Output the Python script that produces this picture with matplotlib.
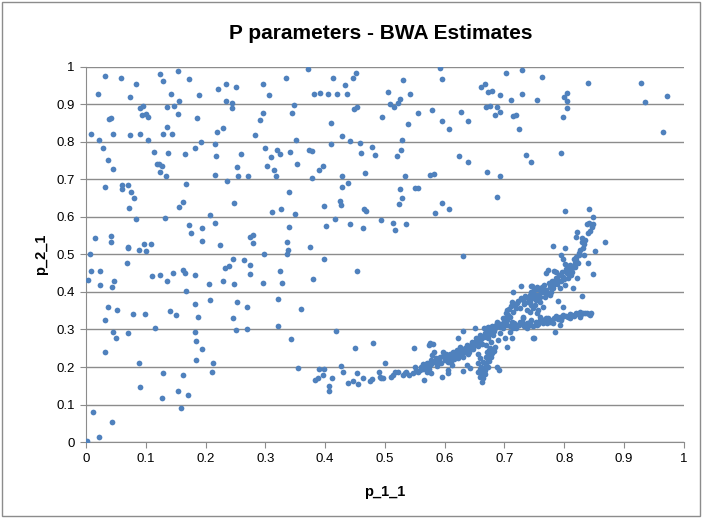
import numpy as np
import matplotlib
matplotlib.use('Agg')
import matplotlib.pyplot as plt
from matplotlib.patches import Rectangle

# (p_1_1, p_2_1) pairs
scatter_left = [
    (0.031, 0.975), (0.059, 0.970), (0.124, 0.981), (0.154, 0.989), (0.129, 0.963), (0.173, 0.967),
    (0.084, 0.954), (0.234, 0.955), (0.020, 0.928), (0.074, 0.921), (0.142, 0.927), (0.189, 0.926),
    (0.221, 0.940), (0.156, 0.908), (0.234, 0.910), (0.244, 0.903), (0.244, 0.891), (0.091, 0.891),
    (0.095, 0.897), (0.135, 0.892), (0.148, 0.897), (0.093, 0.873), (0.100, 0.874), (0.103, 0.867),
    (0.154, 0.875), (0.038, 0.862), (0.042, 0.865), (0.185, 0.863), (0.135, 0.841), (0.229, 0.838),
    (0.219, 0.827), (0.008, 0.822), (0.045, 0.822), (0.074, 0.819), (0.091, 0.821), (0.129, 0.820),
    (0.144, 0.821), (0.021, 0.804), (0.103, 0.805), (0.192, 0.800), (0.216, 0.795), (0.029, 0.784),
    (0.182, 0.784), (0.113, 0.774), (0.138, 0.771), (0.165, 0.768), (0.217, 0.762), (0.037, 0.752),
    (0.118, 0.740), (0.122, 0.742), (0.127, 0.735), (0.045, 0.727), (0.124, 0.719), (0.134, 0.710),
    (0.215, 0.712), (0.236, 0.697), (0.032, 0.680), (0.060, 0.685), (0.061, 0.675), (0.071, 0.685),
    (0.168, 0.689), (0.075, 0.666), (0.081, 0.650), (0.072, 0.623), (0.162, 0.641), (0.155, 0.626),
    (0.248, 0.636), (0.083, 0.595), (0.133, 0.597), (0.208, 0.604), (0.216, 0.584), (0.173, 0.579),
    (0.194, 0.570), (0.176, 0.557), (0.015, 0.544), (0.042, 0.550), (0.041, 0.533), (0.194, 0.535),
    (0.070, 0.519), (0.071, 0.516), (0.089, 0.513), (0.097, 0.528), (0.108, 0.529), (0.101, 0.509),
    (0.225, 0.525), (0.007, 0.502), (0.069, 0.478), (0.246, 0.487), (0.233, 0.463), (0.240, 0.469),
    (0.008, 0.456), (0.023, 0.456), (0.163, 0.458), (0.166, 0.451), (0.146, 0.451), (0.124, 0.445),
    (0.110, 0.443), (0.182, 0.445), (0.004, 0.432), (0.135, 0.428), (0.047, 0.428), (0.229, 0.428),
    (0.247, 0.421), (0.024, 0.419), (0.206, 0.421), (0.043, 0.412), (0.167, 0.403), (0.182, 0.369),
    (0.207, 0.379), (0.036, 0.361), (0.052, 0.352), (0.078, 0.340), (0.098, 0.341), (0.140, 0.350),
    (0.150, 0.338), (0.187, 0.333), (0.032, 0.325), (0.246, 0.331), (0.045, 0.294), (0.050, 0.277),
    (0.070, 0.290), (0.116, 0.305), (0.182, 0.293), (0.184, 0.270), (0.194, 0.248), (0.031, 0.240),
    (0.184, 0.220), (0.213, 0.211), (0.088, 0.211), (0.211, 0.187), (0.129, 0.183), (0.162, 0.178),
    (0.090, 0.146), (0.154, 0.137), (0.171, 0.125), (0.127, 0.117), (0.159, 0.090), (0.011, 0.079),
    (0.043, 0.054), (0.021, 0.013), (0.002, 0.003),
]

scatter_mid = [
    (0.371, 0.995), (0.334, 0.971), (0.413, 0.970), (0.447, 0.971), (0.451, 0.983), (0.251, 0.947),
    (0.296, 0.955), (0.434, 0.952), (0.306, 0.925), (0.381, 0.928), (0.391, 0.931), (0.405, 0.928),
    (0.420, 0.928), (0.436, 0.927), (0.348, 0.898), (0.448, 0.887), (0.454, 0.892), (0.296, 0.876),
    (0.345, 0.876), (0.291, 0.859), (0.496, 0.867), (0.410, 0.851), (0.283, 0.818), (0.428, 0.816),
    (0.352, 0.806), (0.441, 0.803), (0.458, 0.798), (0.410, 0.794), (0.478, 0.787), (0.260, 0.769),
    (0.299, 0.783), (0.319, 0.779), (0.324, 0.769), (0.341, 0.772), (0.373, 0.778), (0.378, 0.777),
    (0.460, 0.770), (0.483, 0.765), (0.309, 0.760), (0.253, 0.734), (0.302, 0.736), (0.353, 0.742),
    (0.396, 0.736), (0.315, 0.725), (0.389, 0.726), (0.467, 0.718), (0.255, 0.708), (0.271, 0.710),
    (0.318, 0.708), (0.429, 0.708), (0.378, 0.704), (0.439, 0.690), (0.428, 0.679), (0.339, 0.667),
    (0.425, 0.643), (0.426, 0.631), (0.398, 0.628), (0.327, 0.621), (0.311, 0.613), (0.350, 0.607),
    (0.465, 0.621), (0.469, 0.615), (0.417, 0.595), (0.493, 0.591), (0.340, 0.574), (0.401, 0.575),
    (0.442, 0.582), (0.463, 0.571), (0.275, 0.547), (0.280, 0.553), (0.279, 0.530), (0.337, 0.533),
    (0.338, 0.511), (0.336, 0.501), (0.375, 0.520), (0.297, 0.501), (0.265, 0.484), (0.275, 0.471),
    (0.398, 0.487), (0.274, 0.449), (0.324, 0.455), (0.454, 0.456), (0.296, 0.423), (0.328, 0.424),
    (0.380, 0.435), (0.322, 0.382), (0.253, 0.373), (0.269, 0.360), (0.360, 0.354), (0.251, 0.298),
    (0.269, 0.302), (0.321, 0.309), (0.343, 0.274), (0.418, 0.295), (0.450, 0.251), (0.480, 0.264),
]

scatter_right = [
    (0.592, 0.998), (0.729, 0.991), (0.702, 0.984), (0.530, 0.965), (0.596, 0.968), (0.506, 0.934),
    (0.542, 0.929), (0.661, 0.947), (0.668, 0.955), (0.673, 0.933), (0.679, 0.937), (0.693, 0.925),
    (0.730, 0.927), (0.711, 0.912), (0.508, 0.901), (0.515, 0.892), (0.522, 0.905), (0.526, 0.914),
    (0.670, 0.894), (0.676, 0.895), (0.688, 0.893), (0.693, 0.881), (0.685, 0.871), (0.715, 0.869),
    (0.720, 0.872), (0.556, 0.876), (0.579, 0.884), (0.628, 0.879), (0.596, 0.857), (0.639, 0.855),
    (0.538, 0.848), (0.607, 0.835), (0.724, 0.835), (0.528, 0.805), (0.527, 0.779), (0.521, 0.763),
    (0.624, 0.763), (0.639, 0.747), (0.736, 0.765), (0.744, 0.747), (0.671, 0.719), (0.693, 0.708),
    (0.533, 0.708), (0.575, 0.711), (0.582, 0.715), (0.525, 0.675), (0.551, 0.677), (0.556, 0.677),
    (0.528, 0.651), (0.523, 0.634), (0.688, 0.653), (0.595, 0.636), (0.607, 0.622), (0.584, 0.611),
    (0.514, 0.585), (0.517, 0.565), (0.536, 0.581), (0.631, 0.495), (0.763, 0.973), (0.839, 0.956),
    (0.929, 0.957), (0.755, 0.913), (0.799, 0.919), (0.805, 0.931), (0.805, 0.909), (0.935, 0.906),
    (0.972, 0.923), (0.805, 0.890), (0.798, 0.867), (0.965, 0.827), (0.795, 0.770),
]

low_arc = [
    (0.354, 0.198), (0.390, 0.195), (0.399, 0.196), (0.396, 0.180), (0.383, 0.165), (0.388, 0.171),
    (0.411, 0.171), (0.406, 0.149), (0.406, 0.137), (0.426, 0.202), (0.430, 0.187), (0.439, 0.158),
    (0.446, 0.164), (0.454, 0.185), (0.455, 0.154), (0.463, 0.171), (0.475, 0.164), (0.479, 0.168),
    (0.490, 0.186), (0.493, 0.171), (0.497, 0.171), (0.500, 0.211), (0.492, 0.174), (0.513, 0.180),
    (0.517, 0.188), (0.511, 0.174), (0.522, 0.188), (0.531, 0.179), (0.533, 0.183), (0.536, 0.186),
    (0.541, 0.179), (0.547, 0.183), (0.548, 0.251), (0.551, 0.201), (0.559, 0.192), (0.563, 0.196),
    (0.564, 0.207), (0.566, 0.165), (0.570, 0.188), (0.573, 0.196), (0.575, 0.205), (0.578, 0.219),
    (0.579, 0.232), (0.582, 0.241), (0.575, 0.263), (0.581, 0.261), (0.573, 0.259), (0.578, 0.183),
    (0.586, 0.223), (0.589, 0.210), (0.592, 0.227), (0.598, 0.241), (0.600, 0.225), (0.603, 0.234),
    (0.606, 0.214), (0.609, 0.236), (0.612, 0.227), (0.614, 0.241), (0.613, 0.205), (0.595, 0.174),
    (0.606, 0.192), (0.605, 0.183), (0.617, 0.232), (0.621, 0.245), (0.625, 0.254), (0.623, 0.223),
    (0.628, 0.239), (0.631, 0.227), (0.634, 0.250), (0.638, 0.259), (0.641, 0.241), (0.645, 0.267),
    (0.648, 0.254), (0.652, 0.277), (0.653, 0.263), (0.659, 0.285), (0.656, 0.234), (0.630, 0.189),
    (0.638, 0.205), (0.643, 0.198), (0.630, 0.296), (0.650, 0.303), (0.623, 0.277),
    (0.656, 0.210), (0.659, 0.196), (0.662, 0.183), (0.659, 0.174), (0.662, 0.161), (0.664, 0.170),
    (0.656, 0.188), (0.667, 0.192), (0.670, 0.205), (0.673, 0.219), (0.676, 0.232), (0.664, 0.214),
    (0.659, 0.223), (0.687, 0.201), (0.691, 0.192),
    (0.552, 0.190), (0.556, 0.186), (0.561, 0.199), (0.568, 0.201), (0.571, 0.211), (0.577, 0.207),
    (0.583, 0.214), (0.587, 0.203), (0.591, 0.219), (0.594, 0.211), (0.597, 0.230), (0.601, 0.218),
    (0.604, 0.224), (0.608, 0.229), (0.611, 0.216), (0.615, 0.222), (0.618, 0.240), (0.620, 0.228),
    (0.624, 0.236), (0.627, 0.246), (0.629, 0.232), (0.633, 0.241), (0.636, 0.249), (0.639, 0.236),
    (0.642, 0.252), (0.644, 0.258), (0.647, 0.247), (0.650, 0.262), (0.652, 0.270), (0.655, 0.256),
    (0.658, 0.268), (0.661, 0.276), (0.663, 0.262), (0.666, 0.281), (0.668, 0.290), (0.671, 0.297),
    (0.674, 0.288), (0.677, 0.302), (0.680, 0.310), (0.683, 0.296), (0.686, 0.311), (0.690, 0.318),
    (0.693, 0.306), (0.697, 0.316),
    (0.660, 0.180), (0.663, 0.176), (0.665, 0.186), (0.668, 0.181), (0.661, 0.200), (0.666, 0.197),
    (0.669, 0.210), (0.672, 0.200), (0.675, 0.215), (0.678, 0.226), (0.680, 0.238), (0.683, 0.244),
    (0.669, 0.226), (0.671, 0.240), (0.674, 0.245),
]

rising_band = [
    (0.676, 0.250), (0.678, 0.267), (0.681, 0.285), (0.684, 0.303), (0.670, 0.259), (0.673, 0.277),
    (0.678, 0.294), (0.684, 0.254), (0.689, 0.272), (0.692, 0.290), (0.698, 0.303), (0.695, 0.312),
    (0.687, 0.321), (0.666, 0.303), (0.673, 0.306), (0.704, 0.254), (0.701, 0.277), (0.701, 0.330),
    (0.706, 0.339), (0.713, 0.321), (0.721, 0.312), (0.726, 0.321), (0.731, 0.330), (0.737, 0.303),
    (0.742, 0.312), (0.748, 0.277), (0.709, 0.294), (0.715, 0.303), (0.704, 0.312), (0.712, 0.277),
    (0.712, 0.374), (0.721, 0.370), (0.731, 0.379), (0.740, 0.374), (0.704, 0.352), (0.715, 0.347),
    (0.726, 0.356), (0.737, 0.352), (0.709, 0.334), (0.731, 0.334), (0.698, 0.330), (0.745, 0.365),
    (0.727, 0.417), (0.746, 0.416), (0.714, 0.399), (0.745, 0.416), (0.755, 0.413),
    (0.742, 0.374), (0.748, 0.383), (0.754, 0.392), (0.759, 0.387), (0.765, 0.401), (0.770, 0.405),
    (0.776, 0.414), (0.781, 0.419), (0.784, 0.428), (0.790, 0.432), (0.795, 0.428), (0.798, 0.441),
    (0.804, 0.450), (0.807, 0.437), (0.815, 0.467), (0.818, 0.477), (0.812, 0.445), (0.801, 0.419),
    (0.793, 0.410), (0.778, 0.401), (0.768, 0.387), (0.759, 0.374), (0.751, 0.365), (0.745, 0.401),
    (0.776, 0.392), (0.815, 0.410), (0.742, 0.347), (0.748, 0.356), (0.754, 0.343), (0.759, 0.334),
    (0.765, 0.361), (0.757, 0.352), (0.829, 0.389), (0.789, 0.377), (0.798, 0.361), (0.822, 0.437),
    (0.773, 0.458), (0.770, 0.450), (0.783, 0.456), (0.786, 0.452), (0.849, 0.448), (0.812, 0.459),
    (0.818, 0.467), (0.820, 0.485), (0.823, 0.477), (0.840, 0.478), (0.801, 0.475), (0.795, 0.499),
    (0.798, 0.488), (0.833, 0.499), (0.825, 0.499), (0.852, 0.509), (0.781, 0.522), (0.802, 0.517),
    (0.833, 0.527), (0.832, 0.518), (0.868, 0.533), (0.820, 0.547), (0.829, 0.543), (0.822, 0.561),
    (0.838, 0.581), (0.842, 0.585), (0.849, 0.581), (0.849, 0.601), (0.802, 0.616), (0.841, 0.621),
    (0.703, 0.344), (0.708, 0.355), (0.711, 0.362), (0.717, 0.366), (0.720, 0.358), (0.723, 0.377),
    (0.728, 0.384), (0.733, 0.368), (0.735, 0.389), (0.739, 0.383), (0.743, 0.393), (0.747, 0.397),
    (0.750, 0.404), (0.753, 0.379), (0.756, 0.408), (0.761, 0.399), (0.763, 0.412), (0.767, 0.418),
    (0.771, 0.396), (0.774, 0.423), (0.779, 0.429), (0.782, 0.411), (0.786, 0.438), (0.788, 0.421),
    (0.792, 0.446), (0.796, 0.452), (0.800, 0.434), (0.803, 0.461), (0.806, 0.468), (0.810, 0.472),
    (0.813, 0.454), (0.816, 0.488), (0.819, 0.492), (0.824, 0.505), (0.827, 0.512), (0.830, 0.532),
    (0.835, 0.538), (0.839, 0.556), (0.843, 0.563), (0.846, 0.572),
]

flat_band = [
    (0.742, 0.321), (0.748, 0.308), (0.754, 0.312), (0.759, 0.325), (0.765, 0.316), (0.770, 0.330),
    (0.776, 0.321), (0.781, 0.316), (0.784, 0.294), (0.793, 0.312), (0.795, 0.325), (0.809, 0.330),
    (0.826, 0.334), (0.843, 0.339), (0.749, 0.277), (0.773, 0.330), (0.787, 0.337), (0.798, 0.339),
    (0.809, 0.341), (0.820, 0.343), (0.831, 0.345), (0.842, 0.342), (0.826, 0.347), (0.793, 0.334),
    (0.700, 0.318), (0.705, 0.325), (0.710, 0.310), (0.716, 0.316), (0.720, 0.304), (0.724, 0.313),
    (0.729, 0.319), (0.733, 0.308), (0.738, 0.316), (0.744, 0.326), (0.752, 0.320), (0.757, 0.315),
    (0.762, 0.328), (0.768, 0.322), (0.772, 0.318), (0.779, 0.326), (0.783, 0.331), (0.790, 0.328),
    (0.797, 0.332), (0.803, 0.336), (0.807, 0.333), (0.813, 0.338), (0.817, 0.336), (0.823, 0.340),
    (0.828, 0.341), (0.834, 0.343), (0.838, 0.345), (0.845, 0.344),
]

groups = [scatter_left, scatter_mid, scatter_right, low_arc, rising_band, flat_band]
pts = np.array([p for g in groups for p in g])

plt.rcParams['font.family'] = ['Liberation Sans', 'DejaVu Sans']

fig = plt.figure(figsize=(7.02, 5.18), dpi=100)
ax = fig.add_axes([0.1225, 0.1467, 0.8515, 0.724])

ax.scatter(pts[:, 0], pts[:, 1], s=17, color='#4F81BD', linewidths=0, zorder=3)

ax.set_xlim(0, 1)
ax.set_ylim(0, 1)
ax.set_xticks(np.arange(0, 1.01, 0.1))
ax.set_yticks(np.arange(0, 1.01, 0.1))
ax.set_xticklabels(['0', '0.1', '0.2', '0.3', '0.4', '0.5', '0.6', '0.7', '0.8', '0.9', '1'])
ax.set_yticklabels(['0', '0.1', '0.2', '0.3', '0.4', '0.5', '0.6', '0.7', '0.8', '0.9', '1'])
ax.yaxis.grid(True, color='#8c8c8c', linewidth=1)
ax.set_axisbelow(True)
for s in ['top', 'right']:
    ax.spines[s].set_visible(False)
for s in ['left', 'bottom']:
    ax.spines[s].set_color('#8c8c8c')
ax.tick_params(axis='both', direction='out', length=4, color='#8c8c8c', labelsize=9.5, pad=4)

ax.set_xlabel('p_1_1', fontsize=10.5, fontweight='bold', labelpad=14)
ax.set_ylabel('p_2_1', fontsize=10.5, fontweight='bold', labelpad=6)
fig.text(0.543, 0.936, 'P parameters - BWA Estimates', ha='center', va='center',
         fontsize=15, fontweight='bold')

fig.patches.append(Rectangle((0.003, 0.004), 0.994, 0.992, transform=fig.transFigure,
                             fill=False, edgecolor='#8c8c8c', linewidth=1))

fig.savefig('out.png', dpi=100)
